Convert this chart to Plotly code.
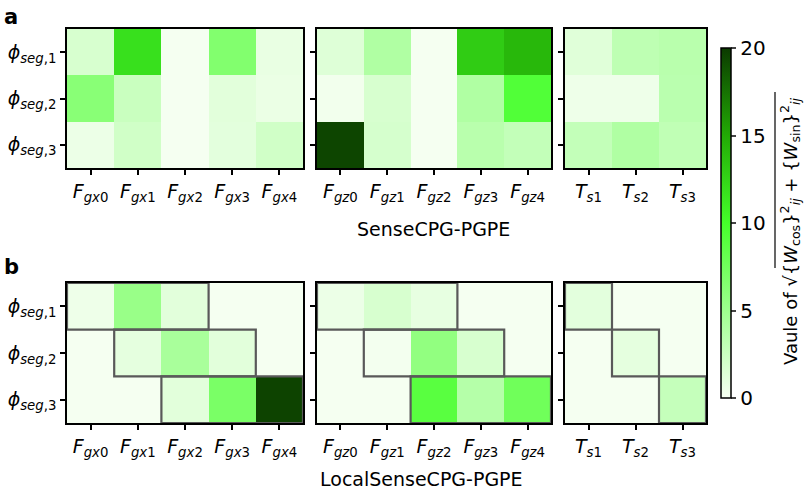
import plotly.graph_objects as go

W, H = 810, 491

rows = ["<i>ϕ</i><sub><i>seg</i>,1</sub>", "<i>ϕ</i><sub><i>seg</i>,2</sub>", "<i>ϕ</i><sub><i>seg</i>,3</sub>"]
gx_labels = ["<i>F</i><sub><i>gx</i>%d</sub>" % i for i in range(5)]
gz_labels = ["<i>F</i><sub><i>gz</i>%d</sub>" % i for i in range(5)]
ts_labels = ["<i>T</i><sub><i>s</i>%d</sub>" % i for i in range(1, 4)]

# panel a: SenseCPG-PGPE
a_gx = [[1.8, 11.8, 0.1, 6.6, 0.8],
        [6.2, 2.6, 0.1, 1.2, 0.7],
        [0.6, 2.2, 0.1, 1.1, 2.2]]
a_gz = [[1.4, 4.0, 0.1, 13.0, 14.2],
        [0.3, 1.8, 0.1, 4.0, 9.3],
        [19.5, 1.9, 0.1, 3.5, 2.9]]
a_ts = [[1.3, 3.2, 3.5],
        [0.5, 0.5, 3.4],
        [2.9, 4.0, 3.1]]
# panel b: LocalSenseCPG-PGPE
b_gx = [[0.5, 5.3, 1.2, 0.1, 0.1],
        [0.1, 1.0, 4.4, 1.2, 0.1],
        [0.1, 0.1, 1.2, 7.0, 19.6]]
b_gz = [[0.6, 1.8, 0.9, 0.1, 0.1],
        [0.1, 0.2, 5.7, 1.8, 0.1],
        [0.1, 0.1, 8.9, 3.7, 7.6]]
b_ts = [[1.1, 0.1, 0.1],
        [0.1, 1.0, 0.1],
        [0.1, 0.1, 2.8]]

# local boxes (row, first col, last col)
boxes_f = [(0, 0, 2), (1, 1, 3), (2, 2, 4)]
boxes_t = [(0, 0, 0), (1, 1, 1), (2, 2, 2)]

cbar_ticks = [0, 5, 10, 15, 20]

colorscale = [[0.0, "#f7fff3"], [0.5, "#45ff2a"], [0.75, "#22aa05"], [1.0, "#0b3a00"]]


def px_x(a, b):
    return [a / W, b / W]


def px_y(top, bot):
    return [1 - bot / H, 1 - top / H]


xdoms = [px_x(67, 303), px_x(317, 551), px_x(565, 706)]
ydoms = [px_y(29, 168), px_y(283, 423)]

panels = [
    (a_gx, gx_labels, 0, 0), (a_gz, gz_labels, 1, 0), (a_ts, ts_labels, 2, 0),
    (b_gx, gx_labels, 0, 1), (b_gz, gz_labels, 1, 1), (b_ts, ts_labels, 2, 1),
]

fig = go.Figure()
font_fam = "DejaVu Sans"
layout = {}
shapes = []
for k, (z, xl, col, row) in enumerate(panels):
    n = k + 1
    xa = "x" if n == 1 else "x%d" % n
    ya = "y" if n == 1 else "y%d" % n
    fig.add_trace(go.Heatmap(z=z, x=list(range(len(xl))), y=[0, 1, 2],
                             coloraxis="coloraxis", xaxis=xa, yaxis=ya,
                             hoverinfo="z"))
    axkey_x = "xaxis" if n == 1 else "xaxis%d" % n
    axkey_y = "yaxis" if n == 1 else "yaxis%d" % n
    layout[axkey_x] = dict(domain=xdoms[col], anchor=ya, range=[-0.5, len(xl) - 0.5],
                           tickvals=list(range(len(xl))), ticktext=xl,
                           ticks="outside", ticklen=5, tickwidth=1.5, tickcolor="black",
                           showline=True, mirror=True, linecolor="black", linewidth=1.5,
                           showgrid=False, zeroline=False,
                           tickfont=dict(family=font_fam, size=19, color="black"))
    layout[axkey_y] = dict(domain=ydoms[row], anchor=xa, range=[2.5, -0.5],
                           tickvals=[0, 1, 2], ticktext=rows,
                           showticklabels=(col == 0),
                           ticks="outside", ticklen=5, tickwidth=1.5, tickcolor="black",
                           showline=True, mirror=True, linecolor="black", linewidth=1.5,
                           showgrid=False, zeroline=False,
                           tickfont=dict(family=font_fam, size=19, color="black"))
    if row == 1:
        bx = boxes_t if col == 2 else boxes_f
        for (r, c0, c1) in bx:
            shapes.append(dict(type="rect", xref=xa, yref=ya,
                               x0=c0 - 0.5, x1=c1 + 0.5, y0=r - 0.5, y1=r + 0.5,
                               line=dict(color="#595959", width=2.2), layer="above"))

# sqrt vinculum for colorbar title
shapes.append(dict(type="line", xref="paper", yref="paper",
                   x0=775 / W, x1=775 / W, y0=1 - 268 / H, y1=1 - 92 / H,
                   line=dict(color="black", width=1.2)))

annotations = [
    dict(text="<b>a</b>", x=2 / W, y=1 - 3 / H, xref="paper", yref="paper",
         xanchor="left", yanchor="top", showarrow=False,
         font=dict(family=font_fam, size=21, color="black")),
    dict(text="<b>b</b>", x=2 / W, y=1 - 253 / H, xref="paper", yref="paper",
         xanchor="left", yanchor="top", showarrow=False,
         font=dict(family=font_fam, size=21, color="black")),
    dict(text="SenseCPG-PGPE", x=434 / W, y=1 - 229 / H, xref="paper", yref="paper",
         xanchor="center", yanchor="middle", showarrow=False,
         font=dict(family=font_fam, size=19, color="black")),
    dict(text="LocalSenseCPG-PGPE", x=318 / W, y=1 - 479 / H, xref="paper", yref="paper",
         xanchor="left", yanchor="middle", showarrow=False,
         font=dict(family=font_fam, size=19, color="black")),
    dict(text="Vaule of √{<i>W</i><sub>cos</sub>}<sup>2</sup><sub><i>ij</i></sub> + {<i>W</i><sub>sin</sub>}<sup>2</sup><sub><i>ij</i></sub>",
         x=790 / W, y=1 - 232 / H, xref="paper", yref="paper", textangle=-90,
         xanchor="center", yanchor="middle", showarrow=False,
         font=dict(family=font_fam, size=18, color="black")),
]

fig.update_layout(
    width=W, height=H, margin=dict(l=0, r=0, t=0, b=0),
    paper_bgcolor="white", plot_bgcolor="white",
    coloraxis=dict(cmin=0, cmax=20, colorscale=colorscale,
                   colorbar=dict(x=721 / W, xanchor="left", y=1 - 223 / H, yanchor="middle",
                                 len=350, lenmode="pixels", thickness=10, thicknessmode="pixels",
                                 xpad=0, ypad=0,
                                 outlinecolor="black", outlinewidth=1.5,
                                 tickvals=cbar_ticks, ticks="outside", ticklen=5, tickwidth=1.5,
                                 tickfont=dict(family=font_fam, size=20, color="black"))),
    shapes=shapes, annotations=annotations, showlegend=False,
    **layout,
)

fig.write_html("out.html", config={"displayModeBar": False},
               post_script="document.body.style.margin='0';document.body.style.overflow='hidden';")
